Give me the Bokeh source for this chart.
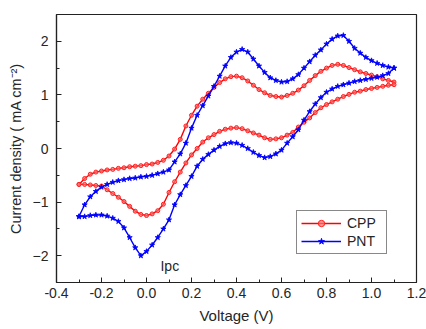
from bokeh.plotting import figure
from bokeh.models import Label, Legend, LegendItem, FixedTicker
from bokeh.embed import file_html
from bokeh.resources import INLINE

# Sweep potentials (V): forward scan -0.3 -> 1.1, reverse scan 1.1 -> -0.3
v_forward = [-0.300, -0.275, -0.250, -0.225, -0.200, -0.175, -0.150, -0.125,
             -0.100, -0.075, -0.050, -0.025, 0.000, 0.025, 0.050, 0.075,
             0.100, 0.125, 0.150, 0.175, 0.200, 0.225, 0.250, 0.275,
             0.300, 0.325, 0.350, 0.375, 0.400, 0.425, 0.450, 0.475,
             0.500, 0.525, 0.550, 0.575, 0.600, 0.625, 0.650, 0.675,
             0.700, 0.725, 0.750, 0.775, 0.800, 0.825, 0.850, 0.875,
             0.900, 0.925, 0.950, 0.975, 1.000, 1.025, 1.050, 1.075, 1.100]
v_reverse = v_forward[::-1]

# CPP current density (mA cm^-2)
cpp_anodic = [-0.67, -0.56, -0.48, -0.44, -0.42, -0.40, -0.39, -0.37,
              -0.36, -0.34, -0.33, -0.32, -0.30, -0.29, -0.26, -0.22,
              -0.14, -0.01, 0.17, 0.42, 0.62, 0.79, 0.92, 1.03,
              1.14, 1.23, 1.30, 1.34, 1.35, 1.32, 1.26, 1.18,
              1.10, 1.04, 0.99, 0.97, 0.96, 0.99, 1.03, 1.09,
              1.17, 1.27, 1.36, 1.44, 1.50, 1.55, 1.57, 1.55,
              1.51, 1.47, 1.43, 1.40, 1.37, 1.34, 1.30, 1.27, 1.24]
cpp_cathodic = [1.19, 1.18, 1.16, 1.14, 1.12, 1.10, 1.07, 1.05,
                1.01, 0.97, 0.92, 0.87, 0.82, 0.76, 0.67, 0.57,
                0.49, 0.40, 0.30, 0.25, 0.20, 0.18, 0.17, 0.20,
                0.25, 0.29, 0.33, 0.37, 0.39, 0.38, 0.36, 0.32,
                0.26, 0.20, 0.12, 0.00, -0.12, -0.27, -0.44, -0.62,
                -0.82, -1.04, -1.16, -1.22, -1.25, -1.23, -1.17, -1.08,
                -0.99, -0.91, -0.84, -0.77, -0.70, -0.69, -0.68, -0.67, -0.67]

# PNT current density (mA cm^-2)
pnt_anodic = [-1.27, -1.05, -0.90, -0.80, -0.72, -0.67, -0.63, -0.60,
              -0.58, -0.56, -0.55, -0.53, -0.52, -0.50, -0.47, -0.44,
              -0.40, -0.25, -0.10, 0.10, 0.38, 0.62, 0.80, 0.98,
              1.16, 1.35, 1.54, 1.70, 1.80, 1.85, 1.80, 1.67,
              1.54, 1.42, 1.32, 1.27, 1.24, 1.25, 1.30, 1.38,
              1.50, 1.62, 1.74, 1.84, 1.95, 2.04, 2.10, 2.11,
              2.00, 1.87, 1.78, 1.70, 1.64, 1.59, 1.55, 1.52, 1.50]
pnt_cathodic = [1.50, 1.40, 1.36, 1.33, 1.31, 1.29, 1.27, 1.25,
                1.22, 1.19, 1.16, 1.11, 1.05, 0.95, 0.83, 0.69,
                0.53, 0.35, 0.22, 0.10, -0.03, -0.10, -0.15, -0.17,
                -0.13, -0.07, 0.00, 0.06, 0.10, 0.11, 0.09, 0.04,
                -0.03, -0.11, -0.20, -0.33, -0.52, -0.69, -0.86, -1.05,
                -1.33, -1.50, -1.66, -1.80, -1.92, -2.00, -1.85, -1.66,
                -1.48, -1.36, -1.30, -1.26, -1.24, -1.24, -1.25, -1.27, -1.27]

x_ticks = [-0.4, -0.2, 0.0, 0.2, 0.4, 0.6, 0.8, 1.0, 1.2]
x_minor = [-0.3, -0.1, 0.1, 0.3, 0.5, 0.7, 0.9, 1.1]
y_ticks = [-2, -1, 0, 1, 2]
y_minor = [-1.5, -0.5, 0.5, 1.5]

FONT = "Liberation Sans"
TEXT_COLOR = "#262626"
AXIS_COLOR = "#222222"

p = figure(width=426, height=329, frame_width=360, frame_height=268,
           min_border_left=56, min_border_right=10, min_border_top=14,
           min_border_bottom=47, x_range=(-0.4, 1.2), y_range=(-2.5, 2.5),
           output_backend="svg", toolbar_location=None,
           background_fill_color="white", border_fill_color="white")

p.grid.visible = False
p.outline_line_color = AXIS_COLOR
p.outline_line_width = 1.2

cpp_x = v_forward + v_reverse
cpp_y = cpp_anodic + cpp_cathodic
pnt_x = v_forward + v_reverse
pnt_y = pnt_anodic + pnt_cathodic

cpp_line = p.line(cpp_x, cpp_y, line_color="#ff0000", line_width=1.4)
cpp_pts = p.scatter(cpp_x, cpp_y, marker="circle", size=4,
                    line_color="#ff2020", fill_color="#ff7070",
                    fill_alpha=0.7, line_width=1)
pnt_line = p.line(pnt_x, pnt_y, line_color="#0000ff", line_width=1.4)
pnt_pts = p.scatter(pnt_x, pnt_y, marker="star", size=5.5,
                    line_color="#0000ff", fill_color="#0000ff", line_width=0.8)

for ax in (p.xaxis[0], p.yaxis[0]):
    ax.major_tick_in = 5
    ax.major_tick_out = 0
    ax.minor_tick_in = 3
    ax.minor_tick_out = 0
    ax.axis_line_color = AXIS_COLOR
    ax.axis_line_width = 1.2
    ax.major_tick_line_color = AXIS_COLOR
    ax.minor_tick_line_color = AXIS_COLOR
    ax.major_label_text_font = FONT
    ax.major_label_text_font_size = "14px"
    ax.major_label_text_color = TEXT_COLOR
    ax.axis_label_text_font = FONT
    ax.axis_label_text_font_style = "normal"
    ax.axis_label_text_color = TEXT_COLOR

p.xaxis[0].ticker = FixedTicker(ticks=x_ticks, minor_ticks=x_minor)
p.yaxis[0].ticker = FixedTicker(ticks=y_ticks, minor_ticks=y_minor)
p.xaxis[0].major_label_overrides = {t: f"{t:.1f}" for t in x_ticks}
p.xaxis[0].major_label_standoff = 5
p.yaxis[0].major_label_standoff = 8

p.xaxis[0].axis_label = "Voltage (V)"
p.xaxis[0].axis_label_text_font_size = "15px"
p.xaxis[0].axis_label_standoff = 6
p.yaxis[0].axis_label = "Current density ( mA cm\u207b\u00b2)"
p.yaxis[0].axis_label_text_font_size = "14.5px"
p.yaxis[0].axis_label_standoff = 6

legend = Legend(items=[
    LegendItem(label="CPP", renderers=[cpp_line, cpp_pts]),
    LegendItem(label="PNT", renderers=[pnt_line, pnt_pts]),
], location=(240, 28))
legend.border_line_color = "#111111"
legend.border_line_width = 1.2
legend.background_fill_color = "white"
legend.label_text_font = FONT
legend.label_text_font_size = "14px"
legend.label_text_color = TEXT_COLOR
legend.glyph_width = 40
legend.glyph_height = 16
legend.label_height = 16
legend.label_width = 35
legend.label_standoff = 6
legend.spacing = 2
legend.padding = 4
legend.margin = 0
p.add_layout(legend)

p.add_layout(Label(x=0.062, y=-2.19, text="Ipc", text_font=FONT,
                   text_font_size="14px", text_color=TEXT_COLOR,
                   text_baseline="middle", text_align="left"))

open("out.html", "w").write(file_html(p, INLINE))
